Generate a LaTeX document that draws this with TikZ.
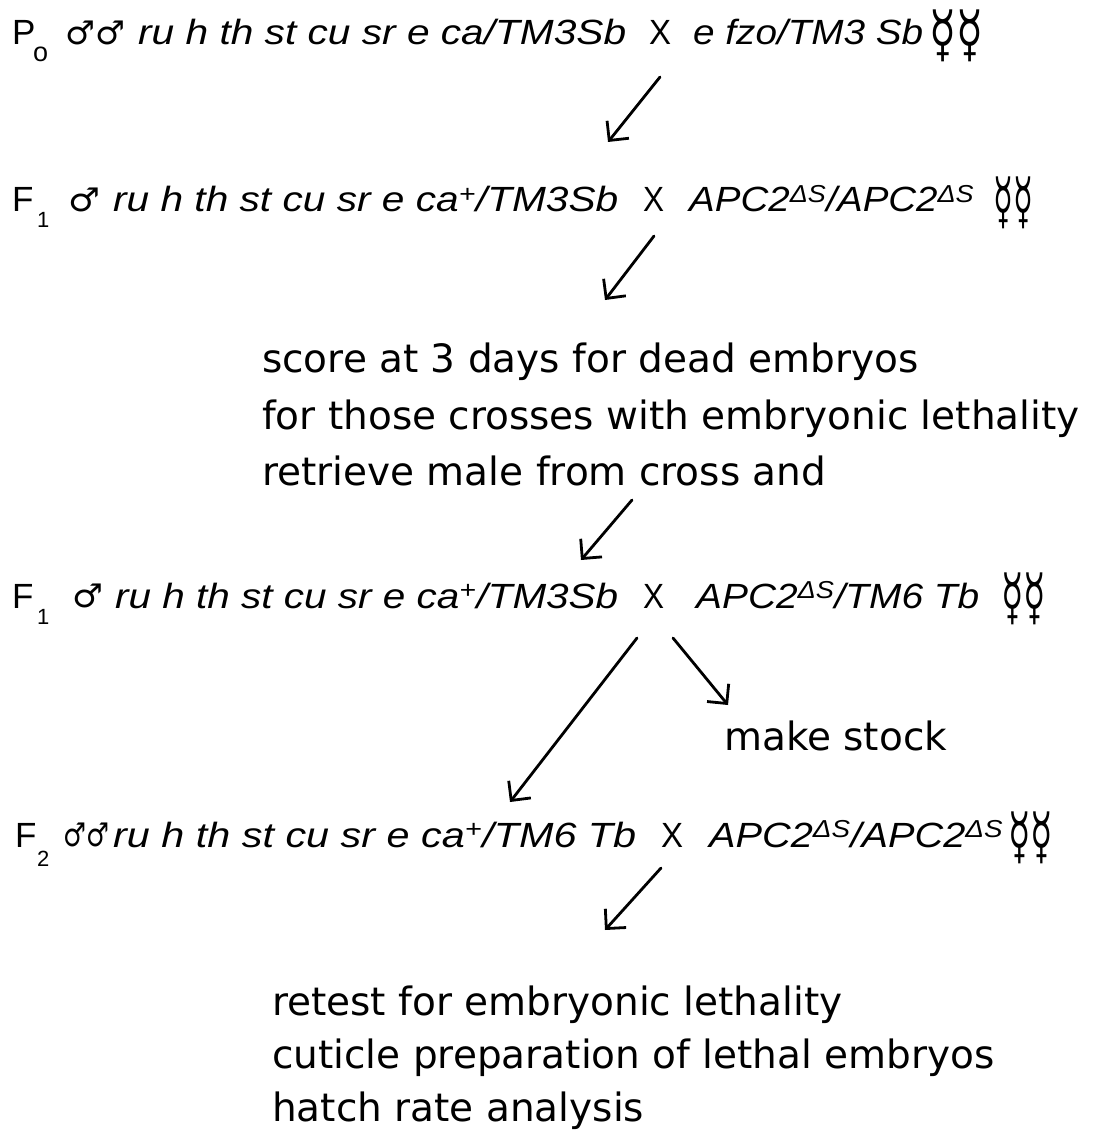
\documentclass[tikz,border=0pt]{standalone}
\usepackage{fontspec}
\setmainfont{Liberation Sans}
\newfontfamily\symf{DejaVu Sans}
\newfontfamily\notef{DejaVu Sans}
\usetikzlibrary{arrows.meta}
\newcommand\hfit[2]{\resizebox{#1pt}{\height}{#2}}
\newcommand\symfit[3]{\resizebox*{#1pt}{#2pt}{\symf #3}}
\begin{document}
\begin{tikzpicture}[x=1pt,y=-1pt,
  gen/.style={anchor=base west,inner sep=0pt,font=\fontsize{35}{40}\selectfont},
  gi/.style={anchor=base west,inner sep=0pt,font=\fontsize{35}{40}\selectfont\itshape},
  sub/.style={anchor=base west,inner sep=0pt,font=\fontsize{22}{24}\selectfont},
  sym/.style={anchor=south west,inner sep=0pt},
  note/.style={anchor=base west,inner sep=0pt,font=\notef\fontsize{39}{44}\selectfont},
  arr/.style={-{Straight Barb[length=14pt,width=28pt]},line width=2.8pt,line cap=round}]
\useasboundingbox (0,0) rectangle (1092,1131);
% line P0
\node[gen] (p0P) at (12,45) {P};
\node[sub,font=\fontsize{27}{28}\selectfont] (p0o) at (33,62) {o};
\node[sym] (p0m) at (65,45) {\symfit{60}{24}{♂♂}};
\node[gi] (p0a) at (138,45) {\hfit{488}{ru h th st cu sr e ca/TM3Sb}};
\node[gen] (p0x) at (649,45) {\hfit{22}{X}};
\node[gi] (p0b) at (693,45) {\hfit{230}{e fzo/TM3 Sb}};
\node[sym] (p0f) at (929,62) {\symfit{54}{52}{☿☿}};
% line F1 (a)
\node[gen] (f1P) at (12,212) {F};
\node[sub] (f1s) at (37,228) {1};
\node[sym] (f1m) at (68,212) {\symfit{32}{24}{♂}};
\node[gi] (f1a) at (113,212) {\hfit{505}{ru h th st cu sr e ca\textsuperscript{+}/TM3Sb}};
\node[gen] (f1x) at (643,212) {\hfit{21}{X}};
\node[gi] (f1b) at (689,212) {\hfit{285}{APC2\textsuperscript{ΔS}/APC2\textsuperscript{ΔS}}};
\node[sym] (f1f) at (993,229) {\symfit{40}{52}{☿☿}};
% notes 1
\node[note] (n1) at (262,372) {score at 3 days for dead embryos};
\node[note] (n2) at (262,429) {for those crosses with embryonic lethality};
\node[note] (n3) at (262,485) {retrieve male from cross and};
% line F1 (b)
\node[gen] (g1P) at (12,608) {F};
\node[sub] (g1s) at (37,624) {1};
\node[sym] (g1m) at (72,608) {\symfit{31}{24}{♂}};
\node[gi] (g1a) at (115,608) {\hfit{503}{ru h th st cu sr e ca\textsuperscript{+}/TM3Sb}};
\node[gen] (g1x) at (643,608) {\hfit{21}{X}};
\node[gi] (g1b) at (696,608) {\hfit{283}{APC2\textsuperscript{ΔS}/TM6 Tb}};
\node[sym] (g1f) at (1001,625) {\symfit{45}{52}{☿☿}};
\node[note] (ms) at (724,750) {make stock};
% line F2
\node[gen] (f2P) at (15,847) {F};
\node[sub] (f2s) at (37,866) {2};
\node[sym] (f2m) at (63,847) {\symfit{46}{24}{♂♂}};
\node[gi] (f2a) at (113,847) {\hfit{523}{ru h th st cu sr e ca\textsuperscript{+}/TM6 Tb}};
\node[gen] (f2x) at (661,847) {\hfit{22}{X}};
\node[gi] (f2b) at (709,847) {\hfit{294}{APC2\textsuperscript{ΔS}/APC2\textsuperscript{ΔS}}};
\node[sym] (f2f) at (1008,864) {\symfit{45}{52}{☿☿}};
% notes 2
\node[note] (r1) at (272,1015) {retest for embryonic lethality};
\node[note] (r2) at (272,1068) {cuticle preparation of lethal embryos};
\node[note] (r3) at (272,1121) {hatch rate analysis};
% arrows
\coordinate (a1s) at (660,77);  \coordinate (a1e) at (608,142);
\coordinate (a2s) at (654,236); \coordinate (a2e) at (605,300);
\coordinate (a3s) at (632,500); \coordinate (a3e) at (581,560);
\coordinate (a4s) at (637,638); \coordinate (a4e) at (510,802);
\coordinate (a5s) at (673,638); \coordinate (a5e) at (728,705);
\coordinate (a6s) at (661,868); \coordinate (a6e) at (605,930);
\draw[arr] (a1s) -- (a1e);
\draw[arr] (a2s) -- (a2e);
\draw[arr] (a3s) -- (a3e);
\draw[arr] (a4s) -- (a4e);
\draw[arr] (a5s) -- (a5e);
\draw[arr] (a6s) -- (a6e);
\end{tikzpicture}
\end{document}
